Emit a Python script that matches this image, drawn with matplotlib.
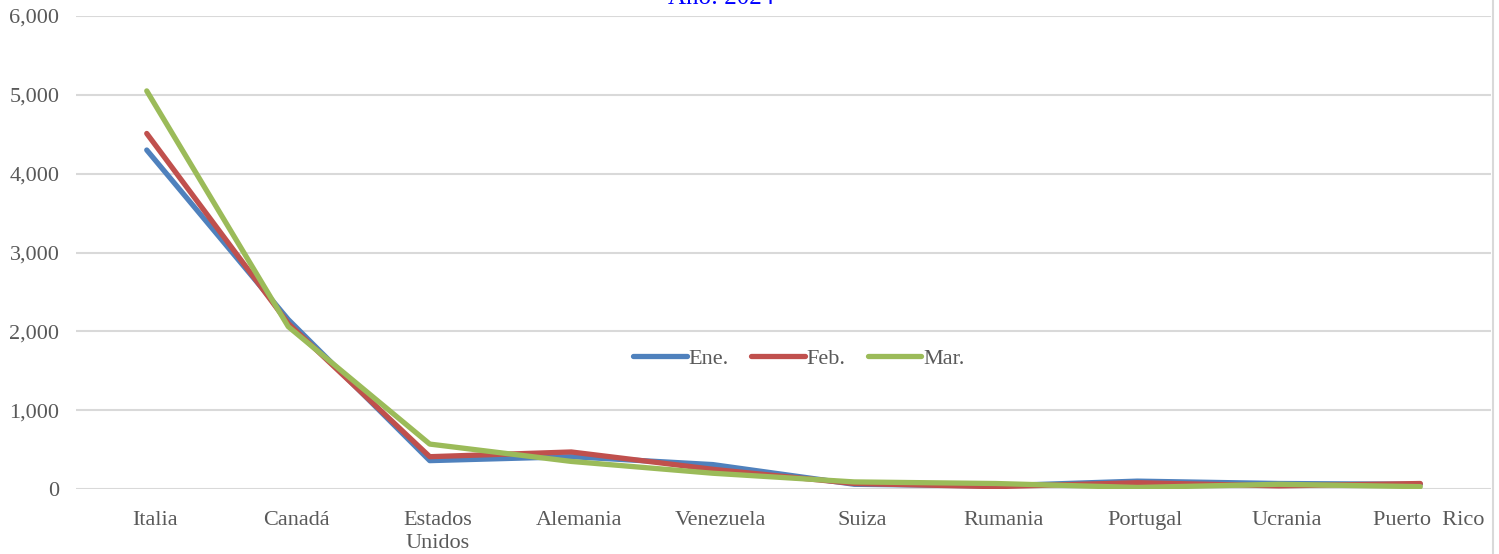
import matplotlib
matplotlib.use('Agg')
import matplotlib.pyplot as plt
from matplotlib.lines import Line2D
from matplotlib.ticker import FuncFormatter
from matplotlib.transforms import ScaledTranslation

# Datos
paises = ['Italia', 'Canadá', 'Estados\nUnidos', 'Alemania', 'Venezuela',
          'Suiza', 'Rumania', 'Portugal', 'Ucrania', 'Puerto  Rico']
ene = [4300, 2150, 360, 410, 310, 60, 40, 100, 70, 60]
feb = [4510, 2100, 410, 470, 250, 70, 30, 80, 40, 70]
mar = [5050, 2060, 570, 350, 200, 90, 70, 20, 60, 30]
meses = ['Ene.', 'Feb.', 'Mar.']
colores = ['#4F81BD', '#C0504D', '#9BBB59']

plt.rcParams['font.family'] = ['Liberation Serif', 'DejaVu Serif']

fig = plt.figure(figsize=(14.99, 5.54), dpi=100)
ax = fig.add_axes([0.0507, 0.1173, 0.944, 0.8538])

x = range(len(paises))
for serie, nombre, color in zip([ene, feb, mar], meses, colores):
    ax.plot(x, serie, color=color, linewidth=3.8, label=nombre,
            solid_capstyle='round', solid_joinstyle='round')

ax.set_xlim(-0.5, len(paises) - 0.5)
ax.set_ylim(0, 6000)
ax.set_yticks(range(0, 6001, 1000))
ax.yaxis.set_major_formatter(FuncFormatter(lambda v, p: f'{int(v):,}'))
ax.set_xticks(list(x))
ax.set_xticklabels(paises, linespacing=1.25)

ax.grid(axis='y', color='#D9D9D9', linewidth=1.5)
ax.set_axisbelow(True)
for s in ax.spines.values():
    s.set_visible(False)
ax.tick_params(axis='both', length=0, labelsize=16, colors='#595959')
ax.tick_params(axis='y', pad=12)
ax.tick_params(axis='x', pad=16)

# las etiquetas del eje x están algo desplazadas a la derecha en el original
desplazamiento = ScaledTranslation(8 / 100, 0, fig.dpi_scale_trans)
for etiqueta in ax.get_xticklabels():
    etiqueta.set_transform(etiqueta.get_transform() + desplazamiento)

ax.legend(loc='center', bbox_to_anchor=(0.511, 0.275), ncol=3, frameon=False,
          fontsize=16, handlelength=2.4, handletextpad=0.1, columnspacing=1.0,
          labelcolor='#595959')

# título cortado en la parte superior
fig.text(721 / 1499, 1 - 4 / 554, 'Año: 2024', color='#0000FF', fontsize=18,
         ha='center', va='baseline')

# borde derecho del área del gráfico
fig.add_artist(Line2D([1492.5 / 1499, 1492.5 / 1499], [0, 1],
                      color='#D9D9D9', linewidth=1.5, transform=fig.transFigure))

fig.savefig('out.png', dpi=100)
plt.close(fig)
